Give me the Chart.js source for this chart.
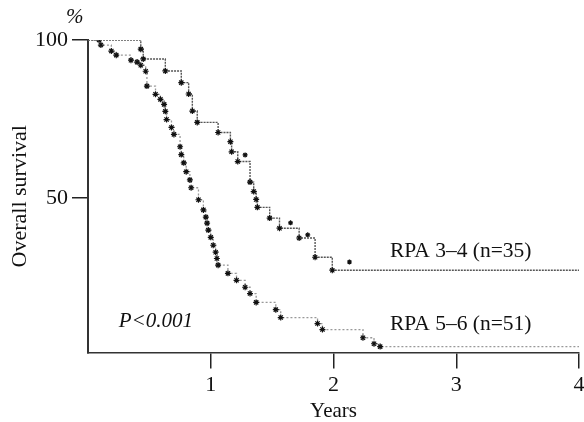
<!DOCTYPE html>
<html>
<head>
<meta charset="utf-8">
<script src="https://cdn.jsdelivr.net/npm/chart.js@4/dist/chart.umd.min.js"></script>
<style>
html,body{margin:0;padding:0;background:#fff;overflow:hidden;}
#wrap{width:584px;height:422px;overflow:hidden;position:relative;}
canvas{position:absolute;left:0;top:0;}
</style>
</head>
<body>
<div id="wrap"><canvas id="c" width="600" height="422" style="width:600px;height:422px"></canvas></div>
<script>
// Group labels
const groupLabels = ["RPA 3\u20134 (n=35)", "RPA 5\u20136 (n=51)"];
// RPA 3-4: time (years) and overall survival (%)
const rpa34Time = [0, 0.43, 0.45, 0.63, 0.76, 0.82, 0.85, 0.89, 1.06, 1.16, 1.17, 1.22, 1.32, 1.35, 1.37, 1.38, 1.48, 1.56, 1.72, 1.85, 1.99, 4];
const rpa34Surv = [100, 97.1, 94.0, 90.2, 86.5, 82.9, 77.5, 73.9, 70.7, 67.8, 64.6, 61.5, 55.0, 52.0, 49.5, 47.0, 43.6, 40.4, 37.3, 31.2, 27.1, 27.1];
// RPA 3-4 censored observations
const rpa34CensTime = [1.28, 1.65, 1.79, 2.13];
const rpa34CensSurv = [63.6, 42.1, 38.3, 29.7];
// RPA 5-6: time (years) and overall survival (%)
const rpa56Time = [0, 0.09, 0.105, 0.19, 0.23, 0.35, 0.40, 0.43, 0.47, 0.48, 0.55, 0.59, 0.62, 0.63, 0.64, 0.68, 0.70, 0.75, 0.76, 0.78, 0.80, 0.83, 0.84, 0.90, 0.94, 0.96, 0.97, 0.98, 1.00, 1.02, 1.04, 1.05, 1.06, 1.14, 1.21, 1.28, 1.32, 1.37, 1.53, 1.57, 1.87, 1.91, 2.24, 2.33, 2.38, 4];
const rpa56Surv = [100, 100, 98.4, 96.5, 95.2, 93.6, 93.0, 92.0, 90.1, 85.4, 82.8, 81.2, 79.6, 77.4, 74.8, 72.3, 70.1, 66.2, 63.7, 61.1, 58.3, 55.7, 53.2, 49.4, 46.2, 43.9, 42.0, 39.8, 37.5, 35.0, 32.8, 30.8, 28.7, 26.1, 23.9, 21.7, 19.7, 16.9, 14.6, 12.1, 10.2, 8.3, 5.7, 3.8, 2.9, 2.9];
// Axis ticks
const xTicks = [1, 2, 3, 4];
const yTicks = [50, 100];
const pText = "P<0.001";
const yUnit = "%";

const serif = '"Liberation Serif", "Times New Roman", serif';
const toPts = (ts, ss) => ts.map((t, i) => ({x: t, y: ss[i]}));
const edgeRadius = (r) => (ctx) => (ctx.dataIndex === 0 || ctx.dataIndex === ctx.dataset.data.length - 1) ? 0 : r;

const textPlugin = {
  id: 'texts',
  afterDraw(chart) {
    const {ctx, scales: {x, y}} = chart;
    ctx.save();
    ctx.fillStyle = '#111';
    ctx.textBaseline = 'middle';
    ctx.textAlign = 'left';
    ctx.font = 'italic 21px ' + serif;
    ctx.fillText(yUnit, 66, 17);
    ctx.fillText(pText, x.getPixelForValue(0.25), y.getPixelForValue(10.8));
    ctx.font = '21.5px ' + serif;
    ctx.fillText(groupLabels[0], x.getPixelForValue(2.46), y.getPixelForValue(33));
    ctx.fillText(groupLabels[1], x.getPixelForValue(2.46), y.getPixelForValue(10));
    ctx.restore();
  }
};

new Chart(document.getElementById('c'), {
  type: 'line',
  data: {
    datasets: [
      {
        label: groupLabels[0],
        data: toPts(rpa34Time, rpa34Surv),
        stepped: true,
        borderColor: '#555',
        borderWidth: 1.4,
        borderDash: [2, 1],
        pointStyle: 'star',
        pointRadius: edgeRadius(3),
        pointBorderColor: '#111',
        pointBorderWidth: 1.2,
        pointBackgroundColor: '#111',
        fill: false
      },
      {
        label: groupLabels[0] + ' censored',
        data: toPts(rpa34CensTime, rpa34CensSurv),
        showLine: false,
        pointStyle: 'star',
        pointRadius: 2.5,
        pointBorderColor: '#111',
        pointBorderWidth: 1.2
      },
      {
        label: groupLabels[1],
        data: toPts(rpa56Time, rpa56Surv),
        stepped: true,
        borderColor: '#999',
        borderWidth: 1.3,
        borderDash: [2, 2],
        pointStyle: 'star',
        pointRadius: edgeRadius(3),
        pointBorderColor: '#111',
        pointBorderWidth: 1.2,
        fill: false
      }
    ]
  },
  options: {
    responsive: false,
    animation: false,
    devicePixelRatio: 1,
    layout: {padding: {left: 0, right: 21, top: 40, bottom: 0}},
    plugins: {legend: {display: false}, tooltip: {enabled: false}},
    scales: {
      x: {
        type: 'linear',
        min: 0,
        max: 4,
        afterBuildTicks: (s) => { s.ticks = xTicks.map(v => ({value: v})); },
        ticks: {
          color: '#111',
          font: {family: serif, size: 22},
          padding: 3,
          maxRotation: 0,
          callback: (v) => String(v)
        },
        grid: {drawOnChartArea: false, drawTicks: true, tickLength: 16, color: '#222', lineWidth: 1.5},
        border: {display: true, color: '#333', width: 1.5},
        title: {display: true, text: 'Years', color: '#111', font: {family: serif, size: 21, lineHeight: 1}, padding: {top: 0, bottom: 0}}
      },
      y: {
        type: 'linear',
        min: 1,
        max: 100,
        afterBuildTicks: (s) => { s.ticks = yTicks.map(v => ({value: v})); },
        ticks: {
          color: '#111',
          font: {family: serif, size: 22},
          padding: 4,
          callback: (v) => String(v)
        },
        grid: {drawOnChartArea: false, drawTicks: true, tickLength: 16, color: '#222', lineWidth: 1.5},
        border: {display: true, color: '#333', width: 2},
        title: {display: true, text: 'Overall survival', color: '#111', font: {family: serif, size: 22, lineHeight: 1}, padding: {top: 9, bottom: 0}}
      }
    }
  },
  plugins: [textPlugin]
});
</script>
</body>
</html>
